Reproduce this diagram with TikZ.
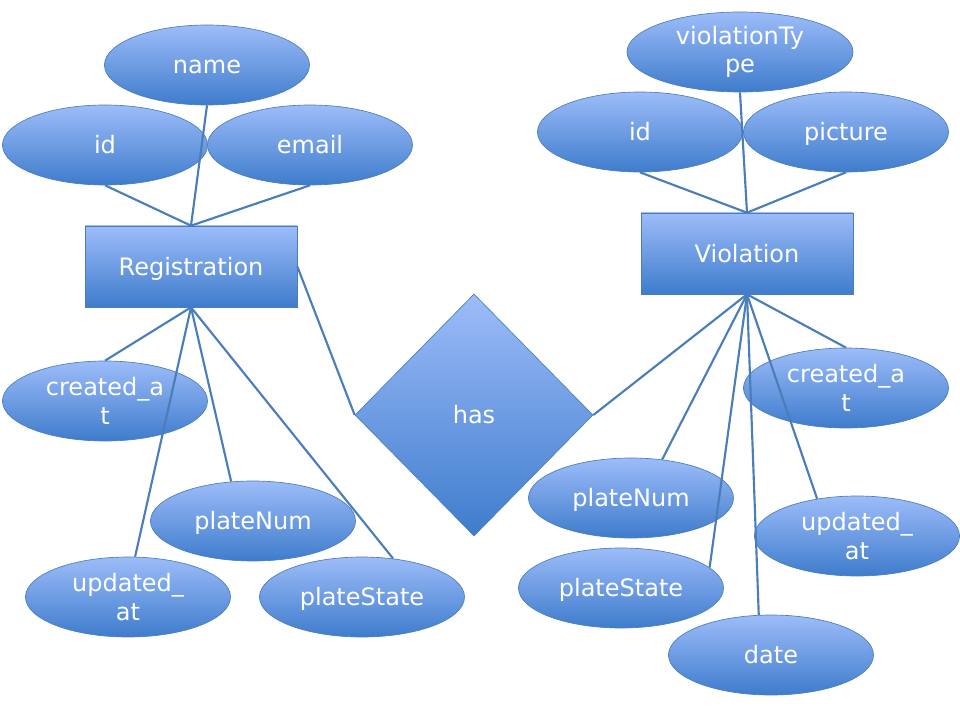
\documentclass[tikz,border=0pt]{standalone}
\usepackage{fontspec}
\setmainfont{DejaVu Sans}
\usetikzlibrary{shapes.geometric, positioning}
\definecolor{shadetop}{RGB}{157, 188, 249}
\definecolor{shadebot}{RGB}{62, 124, 204}
\definecolor{erline}{RGB}{74, 126, 187}
\tikzset{
  erbase/.style={draw=erline, line width=0.5pt, top color=shadetop, bottom color=shadebot,
    text=white, inner sep=0pt, align=center, font=\fontsize{18}{21.5}\selectfont,
    text height=16.8pt, text depth=4pt},
  attr/.style={erbase, ellipse, minimum width=153.75pt, minimum height=60pt},
  twoline/.style={text height={}, text depth={}, yshift=0pt},
  entity/.style={erbase, rectangle, minimum width=159pt, minimum height=60.75pt},
  relation/.style={erbase, diamond, minimum width=178.5pt, minimum height=181.5pt},
  link/.style={draw=erline, line width=1.6pt}
}

\begin{document}
\begin{tikzpicture}[x=0.75pt, y=-0.75pt]
  \useasboundingbox (0,0) rectangle (960,720);

  % Registration and its attributes
  \node[entity] (reg) at (191,266.5) {Registration};
  \node[attr] (regName) at (207,65) {name};
  \node[attr] (regId) at (105,145) {id};
  \node[attr] (regEmail) at (310,145) {email};
  \node[attr, twoline] (regCreated) at (105,401) {created\_a\\t};
  \node[attr] (regPlateNum) at (253,521) {plateNum};
  \node[attr, twoline] (regUpdated) at (128,597) {updated\_\\at};
  \node[attr] (regPlateState) at (362,597) {plateState};

  % relationship
  \node[relation] (has) at (474,415) {has};

  % Violation and its attributes
  \node[entity] (vio) at (747,253.5) {Violation};
  \node[attr, twoline, minimum width=169.5pt] (vioType) at (740,52) {violationTy\\pe};
  \node[attr] (vioId) at (640,132) {id};
  \node[attr] (vioPicture) at (846,132) {picture};
  \node[attr, twoline] (vioCreated) at (846,388) {created\_a\\t};
  \node[attr] (vioPlateNum) at (631,498) {plateNum};
  \node[attr, twoline] (vioUpdated) at (857,536) {updated\_\\at};
  \node[attr] (vioPlateState) at (621,588) {plateState};
  \node[attr] (vioDate) at (771,655) {date};

  % links
  \draw[link] (regId.south) -- (reg.north);
  \draw[link] (regName.south) -- (reg.north);
  \draw[link] (regEmail.south) -- (reg.north);
  \draw[link] (reg.south) -- (regCreated.north);
  \draw[link] (reg.south) -- (regUpdated.80);
  \draw[link] (reg.south) -- (regPlateNum.119);
  \draw[link] (reg.south) -- (regPlateState.51);
  \draw[link] (reg.east) -- (has.west);
  \draw[link] (has.east) -- (vio.south);

  \draw[link] (vioId.south) -- (vio.north);
  \draw[link] (vioType.south) -- (vio.north);
  \draw[link] (vioPicture.south) -- (vio.north);
  \draw[link] (vio.south) -- (vioCreated.north);
  \draw[link] (vio.south) -- (vioPlateNum.51);
  \draw[link] (vio.south) -- (vioPlateState.13);
  \draw[link] (vio.south) -- (vioDate.107);
  \draw[link] (vio.south) -- (vioUpdated.137);
\end{tikzpicture}
\end{document}
